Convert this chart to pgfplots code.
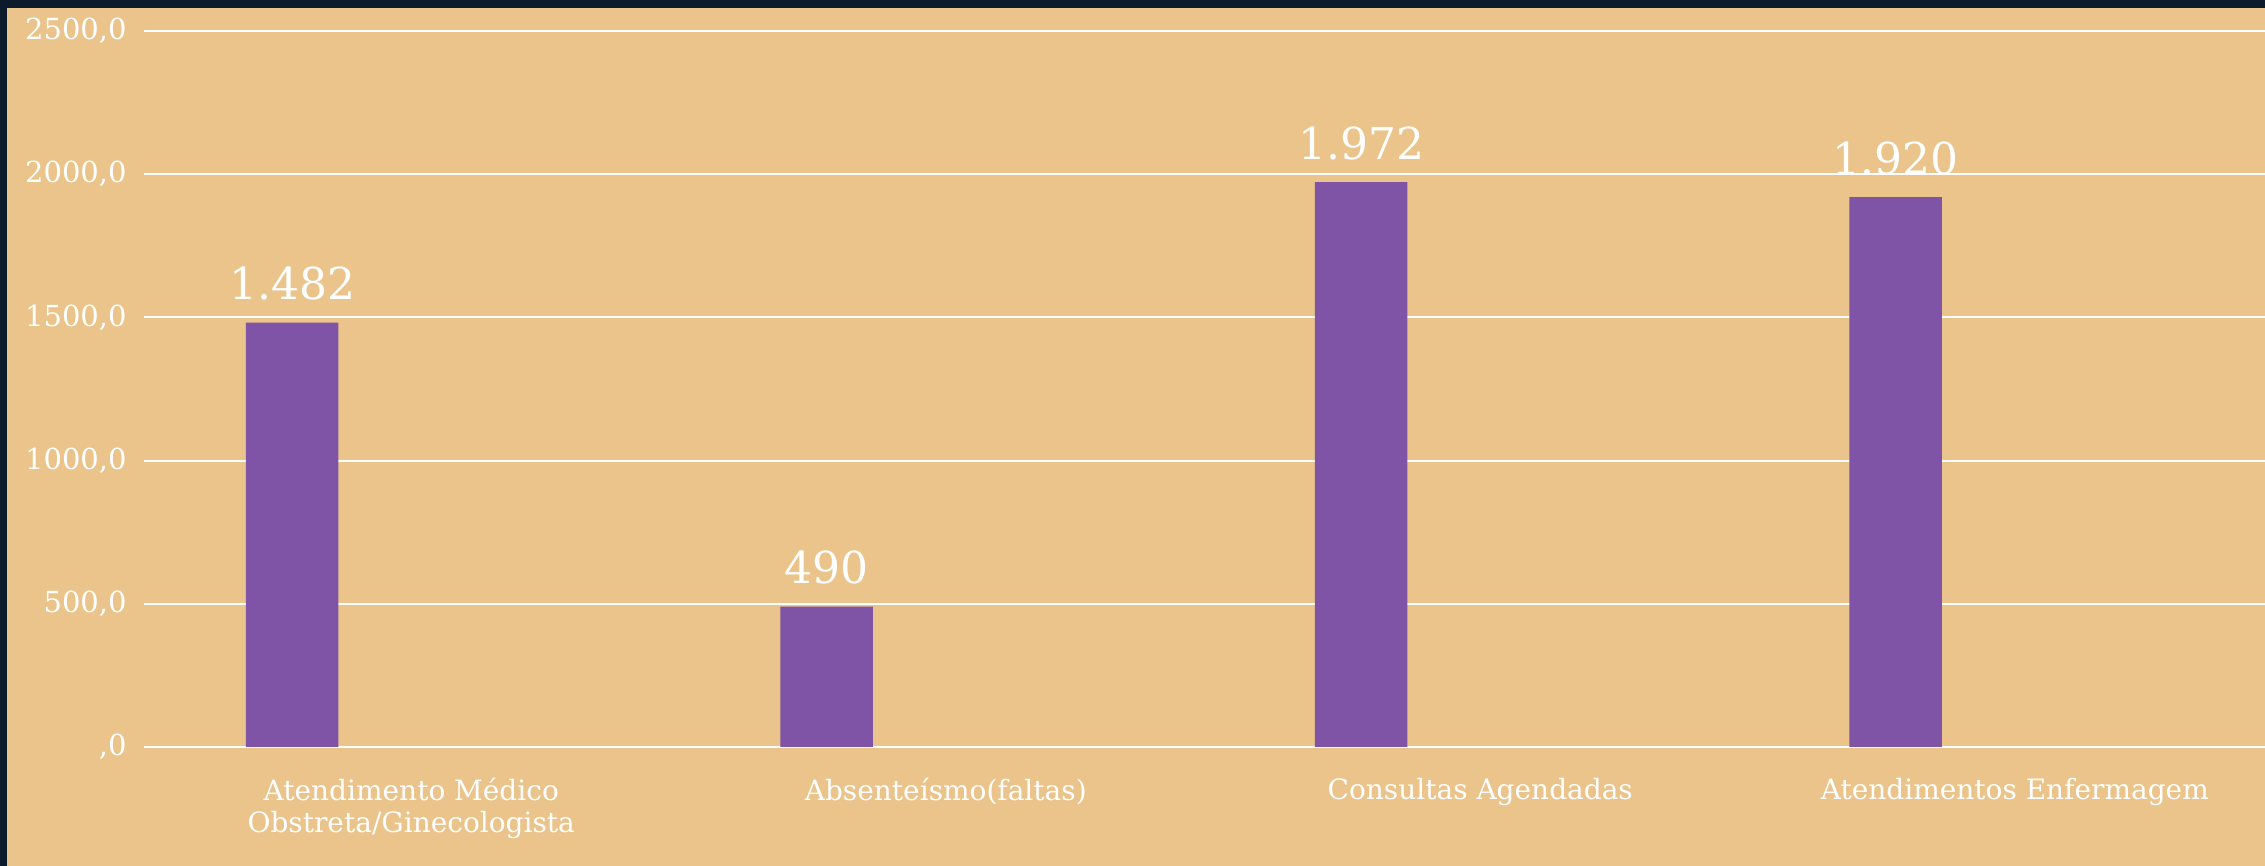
\documentclass[border=0pt]{standalone}
\usepackage{fontspec}
\setmainfont{DejaVu Serif}
\usepackage{pgfplots}
\pgfplotsset{compat=1.18}
\definecolor{tanbg}{RGB}{234,196,138}
\definecolor{darkbg}{RGB}{12,27,43}
\definecolor{barpurple}{RGB}{127,83,166}
\begin{document}
\begin{tikzpicture}
\path[use as bounding box] (-72pt,-59.5pt) rectangle (1060.5pt,373.5pt);
\fill[darkbg] (-72pt,-59.5pt) rectangle (1060.5pt,373.5pt);
\fill[tanbg] (-68.5pt,-59.5pt) rectangle (1060.5pt,369.5pt);
\begin{axis}[
  at={(0pt,0pt)}, anchor=south west,
  scale only axis, width=1060.5pt, height=358pt,
  xmin=-0.5, xmax=3.468, ymin=0, ymax=2500,
  ybar, bar width=0.173,
  axis line style={draw=none},
  tick style={draw=none},
  ymajorgrids, grid style={white, line width=1pt},
  ytick={0,500,1000,1500,2000,2500},
  yticklabels={{,0},{500,0},{1000,0},{1500,0},{2000,0},{2500,0}},
  yticklabel style={text=white, font=\fontsize{14.5}{17}\selectfont, anchor=east, inner sep=0pt, xshift=-8.5pt},
  xtick={0,1,2,3},
  xticklabels={{Atendimento Médico\\Obstreta/Ginecologista},{Absenteísmo(faltas)},{Consultas Agendadas},{Atendimentos Enfermagem}},
  xticklabel style={text=white, font=\fontsize{14}{16}\selectfont, align=center, anchor=north, inner sep=0pt, yshift=-11pt},
  clip=false,
]
\addplot[fill=barpurple, draw=none, point meta=explicit symbolic,
  nodes near coords,
  every node near coord/.append style={text=white, font=\fontsize{22}{26}\selectfont, anchor=south, inner sep=0pt, yshift=11pt}]
  coordinates {(-0.223,1482) [1.482] (0.777,490) [490] (1.777,1972) [1.972] (2.777,1920) [1.920]};
\end{axis}
\end{tikzpicture}
\end{document}
